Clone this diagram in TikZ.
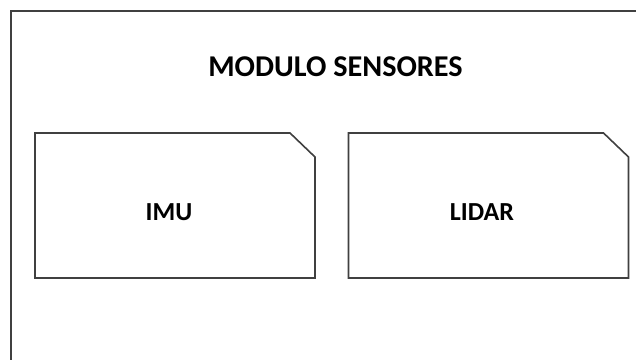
\documentclass[tikz,border=0pt]{standalone}
\usepackage{fontspec}
\setmainfont{Carlito}
\begin{document}
\begin{tikzpicture}[x=1pt,y=1pt,
  edge/.style={draw=black!75,line width=1.6pt,line join=miter},
  sensorbox/.style={rectangle,minimum width=280pt,minimum height=145pt,inner sep=0pt,outer sep=0pt},
  lbl/.style={font=\bfseries\fontsize{26}{30}\selectfont,inner sep=0pt},
  ttl/.style={font=\bfseries\fontsize{30.2}{34}\selectfont,inner sep=0pt}]
\useasboundingbox (0,0) rectangle (636,359);
\clip (0,0) rectangle (636,359);
\fill[white] (0,0) rectangle (636,359);
\draw[edge] (11,-20) rectangle (660,348);
\node[ttl] (title) at (335.5,292) {MODULO SENSORES};
\node[sensorbox] (imubox) at (175,153.5) {};
\node[sensorbox] (lidarbox) at (488.5,153.5) {};
\foreach \b in {imubox,lidarbox}{
  \draw[edge] (\b.south west) -- (\b.north west) -- ([xshift=-25pt]\b.north east)
    -- ([yshift=-24pt]\b.north east) -- (\b.south east) -- cycle;
}
\node[lbl] (imu) at (169,147) {IMU};
\node[lbl] (lidar) at (482,147) {LIDAR};
\end{tikzpicture}
\end{document}
